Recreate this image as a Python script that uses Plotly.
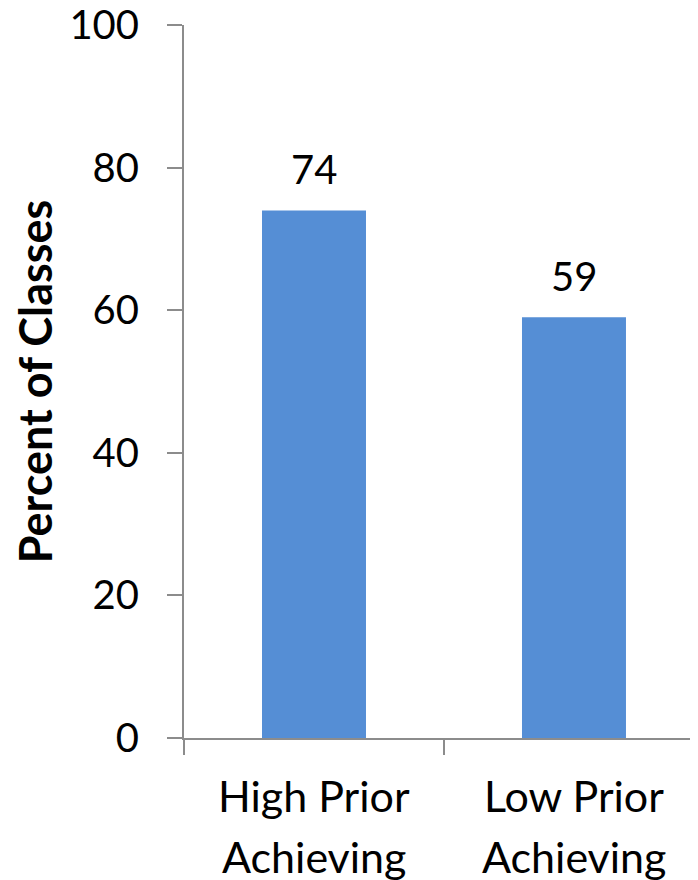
import plotly.graph_objects as go

categories = ["High Prior<br>Achieving", "Low Prior<br>Achieving"]
values = [74, 59]
y_ticks = [0, 20, 40, 60, 80, 100]

FONT = "Lato"
GRAY = "#8c8c8c"

fig = go.Figure()
fig.add_trace(go.Bar(
    x=categories, y=values, width=0.40,
    marker=dict(color="#558ED5", line=dict(width=0)),
))
for c, v in zip(categories, values):
    fig.add_annotation(x=c, y=v, text=str(v), showarrow=False,
                       yanchor="bottom", yshift=15,
                       font=dict(family=FONT, size=40, color="black"))
    for i, line in enumerate(c.split("<br>")):
        fig.add_annotation(x=c, y=0, text=line, showarrow=False,
                           yanchor="middle", yshift=-57 - 61 * i,
                           font=dict(family=FONT, size=43, color="black"))

# page body has an 8px margin, so the figure is offset by 8px
fig.update_layout(
    width=690, height=872,
    margin=dict(l=176, r=0, t=17, b=142),
    paper_bgcolor="white", plot_bgcolor="white",
    showlegend=False,
    font=dict(family=FONT, size=40, color="black"),
)
fig.update_xaxes(
    type="category", range=[-0.5, 1.477],
    showline=True, linecolor=GRAY, linewidth=2,
    ticks="outside", tickson="boundaries", ticklen=15, tickcolor=GRAY, tickwidth=2,
    showgrid=False, zeroline=False, showticklabels=False,
    automargin=False,
)
fig.update_yaxes(
    range=[0, 100], tickvals=y_ticks,
    showline=True, linecolor=GRAY, linewidth=2,
    ticks="outside", ticklen=15, tickcolor=GRAY, tickwidth=2,
    showgrid=False, zeroline=False,
    tickfont=dict(family=FONT, size=40, color="black"),
    ticklabelstandoff=20, ticklabeloverflow="allow",
    automargin=False,
    title=dict(text="<b>Percent of Classes</b>", font=dict(family=FONT, size=45, color="black"), standoff=17),
)
fig.write_html("out.html")
